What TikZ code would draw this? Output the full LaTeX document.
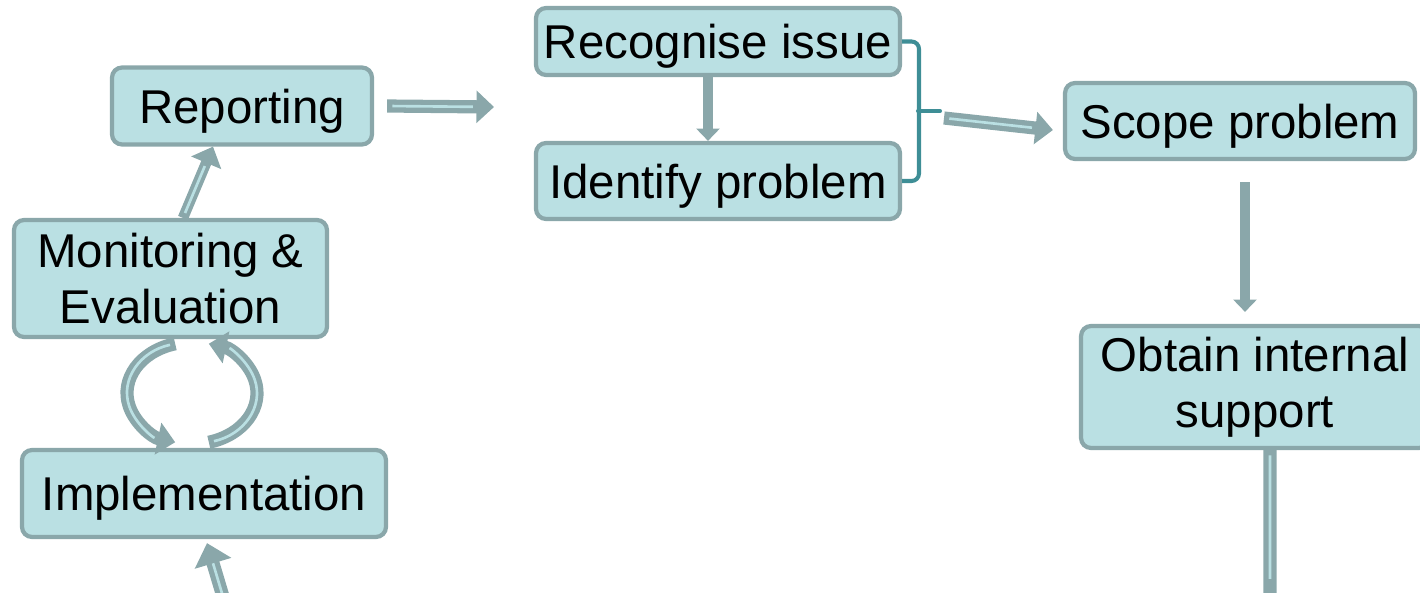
\documentclass[tikz,border=0pt]{standalone}
\usepackage{fontspec}
\setmainfont{Liberation Sans}
\usetikzlibrary{arrows.meta}
\definecolor{boxfill}{RGB}{186,224,227}
\definecolor{boxline}{RGB}{138,167,170}
\definecolor{braceteal}{RGB}{62,142,150}

\tikzset{
  stage/.style={draw=boxline, fill=boxfill, line width=2.4pt, rounded corners=0.2cm, align=center, inner sep=2pt, font=\fontsize{27}{31.7}\selectfont},
  oneline/.style={stage, text depth=0pt},
  flow/.style={draw=boxline, line width=7.5pt, -{Triangle[length=10pt,width=18pt]}, postaction={draw=boxfill, line width=1.5pt, -, shorten >=12pt, shorten <=3pt}},
  push/.style={draw=boxline, line width=5.5pt, -{Triangle[length=7pt,width=13pt]}}
}

\begin{document}
\begin{tikzpicture}[x=0.02cm,y=-0.02cm]
\useasboundingbox (0,0) rectangle (1420,592);

\node[oneline, minimum width=5.2cm, minimum height=1.54cm] (report) at (242,106) {Reporting};
\node[oneline, minimum width=7.28cm, minimum height=1.34cm] (recog) at (718,41.5) {Recognise issue};
\node[oneline, minimum width=7.28cm, minimum height=1.52cm] (ident) at (718,181) {Identify problem};
\node[oneline, minimum width=7cm, minimum height=1.52cm] (scope) at (1240,121) {Scope problem};
\node[stage, minimum width=6.26cm, minimum height=2.34cm] (monit) at (170.5,278.5) {Monitoring \&\\Evaluation};
\node[stage, minimum width=6.96cm, minimum height=2.44cm] (obtain) at (1255,387) {Obtain internal\\support};
\node[oneline, minimum width=7.28cm, minimum height=1.74cm] (impl) at (204,493.5) {Implementation};

\coordinate (gap) at (494,107);
\coordinate (bracemid) at (919,111);
\coordinate (bracetip) at (940,111);
\coordinate (loop) at (192,393);
\coordinate (below) at (224,600);
\coordinate (offpage) at (1270,600);

\draw[flow] ([xshift=0.26cm]report.east) -- (gap);
\draw[push] ([xshift=-0.2cm]recog.south) -- ([xshift=-0.2cm]ident.north);
\draw[braceteal, line width=2.3pt, rounded corners=0.15cm] (recog.east) -| (bracemid) |- (ident.east);
\draw[braceteal, line width=2.3pt, line cap=round] ([xshift=-0.02cm]bracemid) -- (bracetip);
\draw[flow] ([shift={(0.08cm,-0.14cm)}]bracetip) -- ([shift={(-0.2cm,-0.18cm)}]scope.west);
\draw[push] ([shift={(0.1cm,-0.42cm)}]scope.south) -- ([shift={(-0.2cm,0.24cm)}]obtain.north);
\draw[flow, -] ([xshift=0.3cm]obtain.south) -- (offpage);
\draw[flow, line width=6pt] ([xshift=0.25cm]monit.north) -- ([xshift=-0.58cm]report.south);
\draw[flow] ([shift={(105:1.3cm and 1.02cm)}]loop) arc[start angle=105, end angle=255, x radius=1.3cm, y radius=1.02cm];
\draw[flow] ([shift={(285:1.3cm and 1.02cm)}]loop) arc[start angle=285, end angle=435, x radius=1.3cm, y radius=1.02cm];
\draw[flow, -{Triangle[length=12pt,width=21pt]}] (below) -- ([shift={(0.06cm,-0.08cm)}]impl.south);
\end{tikzpicture}
\end{document}
